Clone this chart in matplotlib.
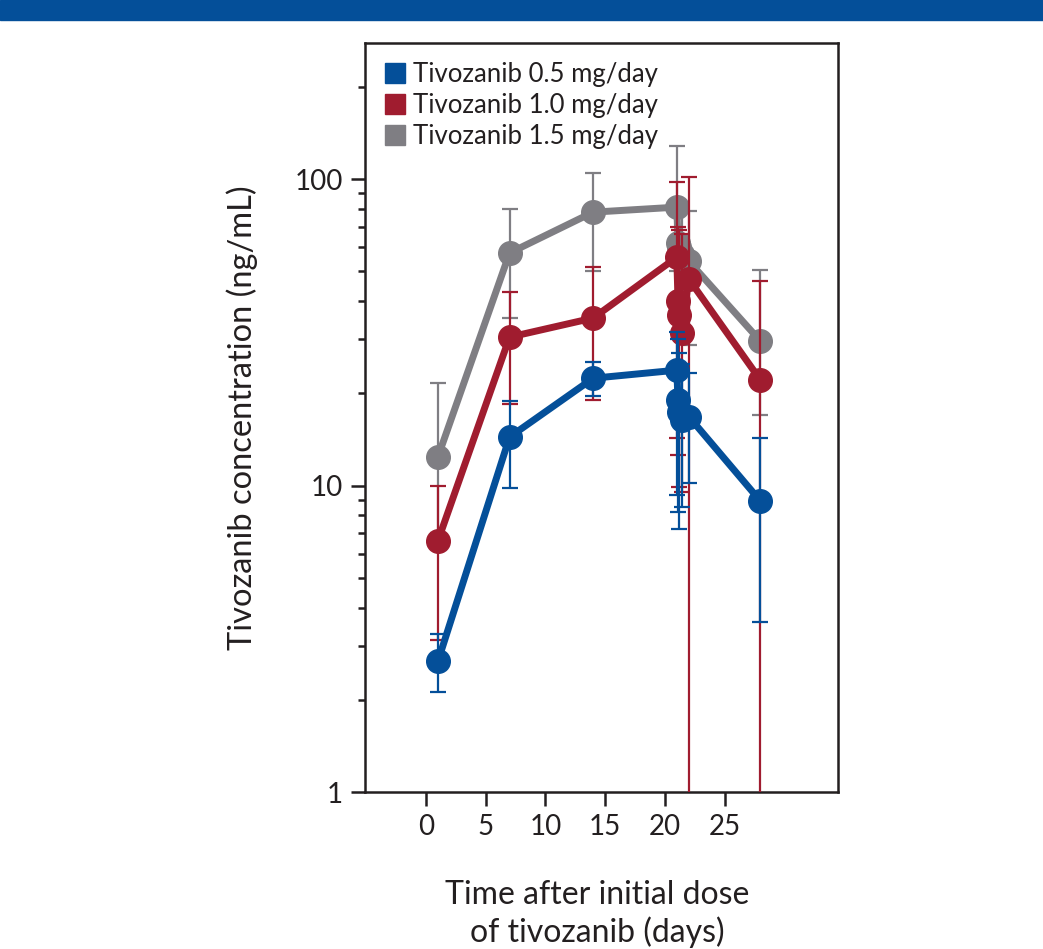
import numpy as np
import matplotlib.pyplot as plt
from matplotlib.lines import Line2D
from matplotlib.patches import Rectangle

plt.rcParams['font.family'] = ['Lato', 'DejaVu Sans']

# -----------------------------
# data
# -----------------------------
days = [1, 7, 14, 21, 21.1, 21.2, 21.4, 22, 28]

blue_mean = [2.67, 14.4, 22.4, 23.8, 19.0, 17.4, 16.4, 16.8, 8.9]
blue_hi = [3.28, 18.9, 25.3, 31.7, 30.0, 27.0, 25.0, 23.3, 14.3]
blue_lo = [2.12, 9.8, 19.6, 9.3, 8.2, 7.2, 8.5, 10.2, 3.6]

red_mean = [6.6, 30.5, 35.2, 55.6, 40.0, 36.0, 31.5, 47.2, 22.1]
red_hi = [10.0, 42.8, 51.6, 97.8, 70.0, 68.0, 66.0, 101.6, 46.5]
red_lo = [3.13, 18.5, 19.0, 14.3, 12.6, 9.9, 9.5, 0.5, 0.5]

gray_mean = [12.4, 57.4, 78.0, 81.0, 62.0, 60.0, 57.0, 54.0, 29.6]
gray_hi = [21.6, 79.8, 104.6, 128.0, 84.0, 82.0, 80.0, 78.6, 50.5]
gray_lo = [7.0, 35.2, 50.0, 50.0, 40.0, 38.0, 36.0, 28.7, 17.0]

labels = ["Tivozanib 0.5 mg/day", "Tivozanib 1.0 mg/day", "Tivozanib 1.5 mg/day"]
x_ticks = [0, 5, 10, 15, 20, 25]
y_ticks = [1, 10, 100]

BLUE = "#044f99"
RED = "#a01c2f"
GRAY = "#7f7e83"
INK = "#231f20"

# -----------------------------
# figure
# -----------------------------
fig = plt.figure(figsize=(10.43, 9.49), dpi=100)
fig.patches.append(Rectangle((0, 1 - 20 / 949), 1, 20 / 949, transform=fig.transFigure,
                             color=BLUE, zorder=0))

ax = fig.add_axes([0.35, 0.1654, 0.4535, 0.7893])

series = [
    (gray_mean, gray_lo, gray_hi, GRAY),
    (red_mean, red_lo, red_hi, RED),
    (blue_mean, blue_lo, blue_hi, BLUE),
]

z = 2
for mean, lo, hi, col in series:
    mean = np.array(mean)
    err = np.vstack([mean - np.array(lo), np.array(hi) - mean])
    ax.errorbar(days, mean, yerr=err, fmt="none", ecolor=col, elinewidth=1.6,
                capsize=5.5, capthick=1.6, zorder=z)
    ax.plot(days, mean, "-o", color=col, lw=5, markersize=17, zorder=z + 1)
    z += 2

ax.set_yscale("log")
ax.set_ylim(1, 278)
ax.set_xlim(-5.1, 34.5)
ax.set_xticks(x_ticks)
ax.set_yticks(y_ticks)
ax.set_yticklabels([str(v) for v in y_ticks])
ax.yaxis.set_minor_formatter(plt.NullFormatter())

ax.tick_params(axis="both", which="major", direction="out", length=10, width=1.8,
               labelsize=20, color=INK, labelcolor=INK, pad=6)
ax.tick_params(axis="y", which="minor", direction="out", length=5, width=1.8,
               color=INK)
for s in ax.spines.values():
    s.set_linewidth(1.8)
    s.set_color(INK)

ax.set_ylabel("Tivozanib concentration (ng/mL)", fontsize=23.5, color=INK)
ax.yaxis.set_label_coords(-0.226, 0.5)
ax.set_xlabel("Time after initial dose\nof tivozanib (days)", fontsize=23,
              color=INK, linespacing=1.25)
ax.xaxis.set_label_coords(0.49, -0.118)

handles = [Line2D([], [], marker="s", ls="none", color=c, markersize=14)
           for c in (BLUE, RED, GRAY)]
ax.legend(handles, labels, loc="upper left", frameon=False, fontsize=18.5,
          handlelength=0.8, handletextpad=0.3, labelspacing=0.22,
          borderaxespad=0.35, labelcolor=INK)

plt.savefig("out.png", dpi=100)
